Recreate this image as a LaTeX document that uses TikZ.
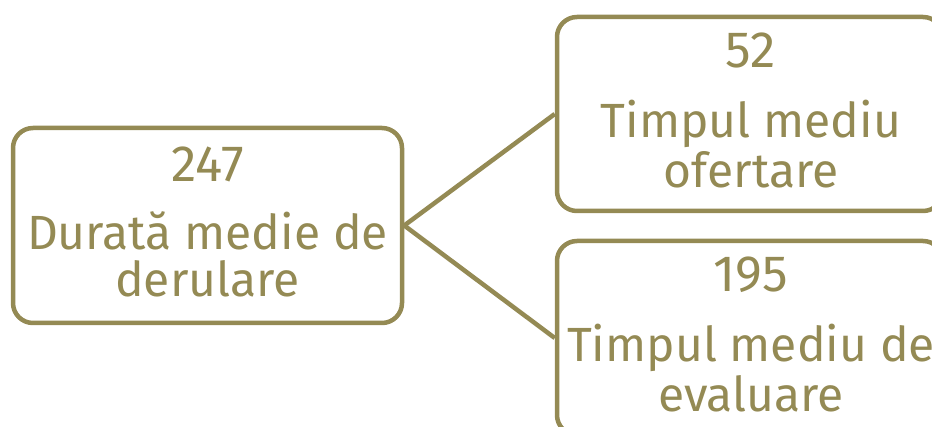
\documentclass[tikz,border=0pt]{standalone}
\usepackage{fontspec}
\setmainfont{Fira Sans}
\definecolor{olive}{RGB}{148,138,84}
\begin{document}
\begin{tikzpicture}[x=1pt,y=-1pt,
  box/.style={draw=olive, line width=4.5pt, rounded corners=20pt, fill=white, inner sep=0pt},
  lbl/.style={text=olive, anchor=base, inner sep=0pt, font=\fontsize{48}{47}\selectfont},
  num/.style={lbl, font=\fontsize{51}{50}\selectfont},
  conn/.style={draw=olive, line width=4.5pt}]
\useasboundingbox (0,0) rectangle (932,427);
\clip (0,0) rectangle (932,427);
\node[box, minimum width=389pt, minimum height=195pt] (L) at (207.5,225.5) {};
\node[box, minimum width=386pt, minimum height=194pt] (T) at (750,114) {};
\node[box, minimum width=386pt, minimum height=194pt] (B) at (750,338) {};
\draw[conn] (L.east) -- (T.west);
\draw[conn] (L.east) -- (B.west);
\node[num] (l1) at (207.5,182) {247};
\node[lbl] (l2) at (207.5,250) {Durată medie de};
\node[lbl] (l3) at (207.5,297) {derulare};
\node[num] (t1) at (751,68) {52};
\node[lbl] (t2) at (751,138) {Timpul mediu};
\node[lbl] (t3) at (751,188) {ofertare};
\node[num] (b1) at (751,292) {195};
\node[lbl] (b2) at (751,362) {Timpul mediu de};
\node[lbl] (b3) at (751,412) {evaluare};
\end{tikzpicture}
\end{document}
